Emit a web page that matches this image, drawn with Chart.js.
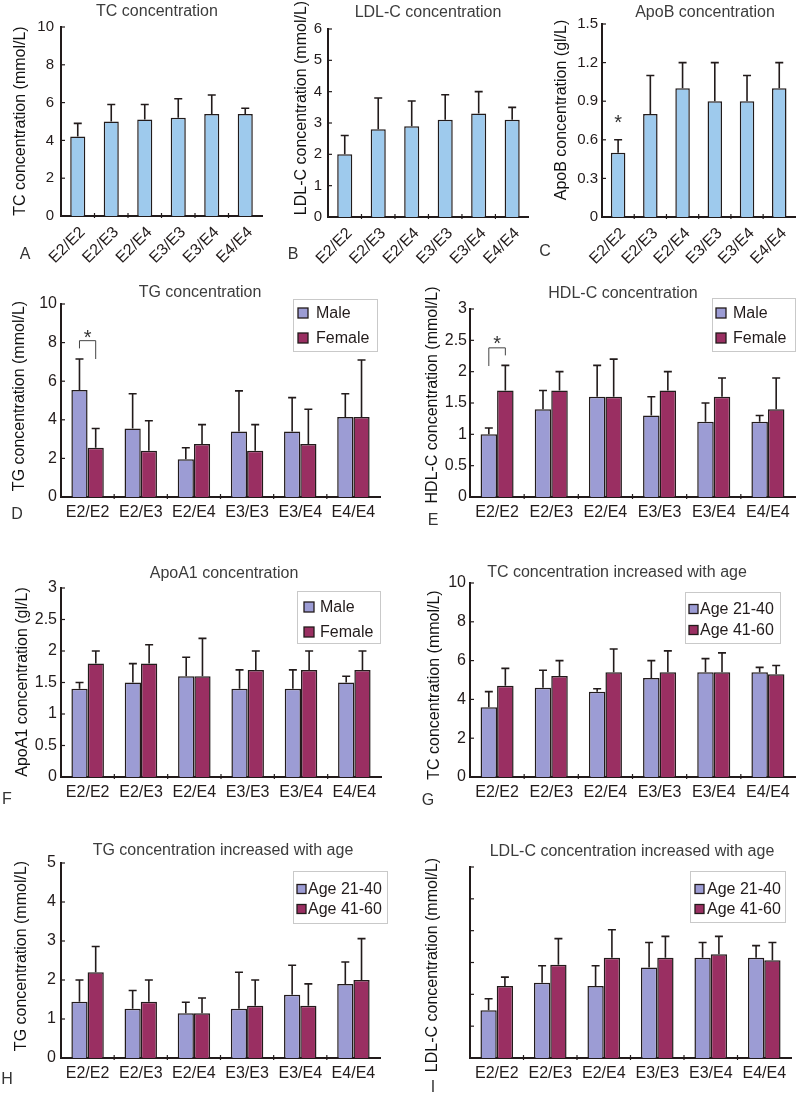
<!DOCTYPE html>
<html><head><meta charset="utf-8">
<script src="https://cdn.jsdelivr.net/npm/chart.js@4.4.1/dist/chart.umd.min.js"></script>
<style>
html,body{margin:0;padding:0;background:#fff;}
#fig{position:relative;width:800px;height:1096px;overflow:hidden;background:#fff;}
canvas{position:absolute;}
</style></head><body><div id="fig"></div>
<script>
// ---------- data ----------
const categories = ['E2/E2','E2/E3','E2/E4','E3/E3','E3/E4','E4/E4'];
const sexLabels = ['Male','Female'];
const ageLabels = ['Age 21-40','Age 41-60'];

// A: TC
const tcMean = [4.2, 5.0, 5.1, 5.2, 5.4, 5.4];
const tcSD   = [0.7, 0.9, 0.8, 1.0, 1.0, 0.3];
// B: LDL-C
const ldlMean = [2.0, 2.8, 2.9, 3.1, 3.3, 3.1];
const ldlSD   = [0.6, 1.0, 0.8, 0.8, 0.7, 0.4];
// C: ApoB
const apobMean = [0.5, 0.8, 1.0, 0.9, 0.9, 1.0];
const apobSD   = [0.1, 0.3, 0.2, 0.3, 0.2, 0.2];
// D: TG by sex
const tgMale     = [5.55, 3.55, 1.95, 3.4, 3.4, 4.15];
const tgMaleSD   = [1.6, 1.8, 0.6, 2.1, 1.75, 1.2];
const tgFemale   = [2.55, 2.4, 2.75, 2.4, 2.75, 4.15];
const tgFemaleSD = [1.0, 1.55, 1.0, 1.35, 1.8, 2.95];
// E: HDL-C by sex
const hdlMale     = [1.0, 1.4, 1.6, 1.3, 1.2, 1.2];
const hdlMaleSD   = [0.1, 0.3, 0.5, 0.3, 0.3, 0.1];
const hdlFemale   = [1.7, 1.7, 1.6, 1.7, 1.6, 1.4];
const hdlFemaleSD = [0.4, 0.3, 0.6, 0.3, 0.3, 0.5];
// F: ApoA1 by sex
const apoaMale     = [1.4, 1.5, 1.6, 1.4, 1.4, 1.5];
const apoaMaleSD   = [0.1, 0.3, 0.3, 0.3, 0.3, 0.1];
const apoaFemale   = [1.8, 1.8, 1.6, 1.7, 1.7, 1.7];
const apoaFemaleSD = [0.2, 0.3, 0.6, 0.3, 0.3, 0.3];
// G: TC by age
const tcYoung   = [3.6, 4.6, 4.4, 5.1, 5.4, 5.4];
const tcYoungSD = [0.8, 0.9, 0.15, 0.9, 0.7, 0.25];
const tcOld     = [4.7, 5.2, 5.4, 5.4, 5.4, 5.3];
const tcOldSD   = [0.9, 0.8, 1.2, 1.1, 1.0, 0.45];
// H: TG by age
const tgYoung   = [1.44, 1.26, 1.15, 1.26, 1.62, 1.9];
const tgYoungSD = [0.56, 0.47, 0.28, 0.94, 0.76, 0.56];
const tgOld     = [2.2, 1.44, 1.15, 1.34, 1.34, 2.0];
const tgOldSD   = [0.66, 0.56, 0.39, 0.66, 0.56, 1.06];
// I: LDL-C by age
const ldlYoung   = [1.5, 2.36, 2.26, 2.84, 3.15, 3.15];
const ldlYoungSD = [0.36, 0.54, 0.64, 0.79, 0.48, 0.38];
const ldlOld     = [2.26, 2.93, 3.15, 3.15, 3.26, 3.07];
const ldlOldSD   = [0.28, 0.82, 0.88, 0.67, 0.56, 0.56];

// ---------- style ----------
const INK = '#221b1b';
const BLUE = '#9ecaed';
const LAV = '#9c9cd4';
const MAROON = '#9a2f62';
const FONT = "'Liberation Sans', Arial, sans-serif";
Chart.defaults.font.family = FONT;
Chart.defaults.color = INK;

const panels = [
 {letter:'A', rect:[0,0,268,270], area:[61,27,262,216], title:'TC concentration', titleXY:[157,12],
  ylabel:'TC concentration (mmol/L)', ylabelXY:[21,121], letterXY:[25,255], yMax:10, yStep:2, tickPad:7, rotate:true, tickSize:15,
  series:[{label:'TC', data:tcMean, sd:tcSD, color:BLUE}]},
 {letter:'B', rect:[268,0,265,270], area:[328,29,530,217], title:'LDL-C concentration', titleXY:[428,13],
  ylabel:'LDL-C concentration (mmol/L)', ylabelXY:[302,108], letterXY:[293,255], yMax:6, yStep:1, tickPad:6, rotate:true, tickSize:15,
  series:[{label:'LDL-C', data:ldlMean, sd:ldlSD, color:BLUE}]},
 {letter:'C', rect:[533,0,267,270], area:[602,24,798,217], title:'ApoB concentration', titleXY:[705,13],
  ylabel:'ApoB concentration (gl/L)', ylabelXY:[562,110], letterXY:[545,252], yMax:1.5, yStep:0.3, tickPad:4, rotate:true, tickSize:15,
  series:[{label:'ApoB', data:apobMean, sd:apobSD, color:BLUE}],
  sig:{type:'star', value:0.77}},
 {letter:'D', rect:[0,276,400,254], area:[61,304,380,497], title:'TG concentration', titleXY:[200,293],
  ylabel:'TG concentration (mmol/L)', ylabelXY:[20,396], letterXY:[17,515], yMax:10, yStep:2, tickPad:4, tickSize:16,
  series:[{label:sexLabels[0], data:tgMale, sd:tgMaleSD, color:LAV},{label:sexLabels[1], data:tgFemale, sd:tgFemaleSD, color:MAROON}],
  legend:{box:[293,299,377,351], sx:298, tx:316, rows:[313,338], sw:10},
  sig:{type:'bracket', top:8.1, left:7.7, right:7.15, star:8.5}},
 {letter:'E', rect:[400,276,400,254], area:[470,309,795,497], title:'HDL-C concentration', titleXY:[623,294],
  ylabel:'HDL-C concentration (mmol/L)', ylabelXY:[433,395], letterXY:[433,521], yMax:3, yStep:0.5, tickPad:3, tickSize:16,
  series:[{label:sexLabels[0], data:hdlMale, sd:hdlMaleSD, color:LAV},{label:sexLabels[1], data:hdlFemale, sd:hdlFemaleSD, color:MAROON}],
  legend:{box:[712,298,795,351], sx:716, tx:733, rows:[313,338], sw:10},
  sig:{type:'bracket', top:2.38, left:2.09, right:2.26, star:2.52}},
 {letter:'F', rect:[0,555,400,260], area:[61,588,381,777], title:'ApoA1 concentration', titleXY:[224,574],
  ylabel:'ApoA1 concentration (gl/L)', ylabelXY:[23,682], letterXY:[7,800], yMax:3, yStep:0.5, tickPad:4, tickSize:16,
  series:[{label:sexLabels[0], data:apoaMale, sd:apoaMaleSD, color:LAV},{label:sexLabels[1], data:apoaFemale, sd:apoaFemaleSD, color:MAROON}],
  legend:{box:[297,591,380,643], sx:304, tx:320, rows:[607,632], sw:10}},
 {letter:'G', rect:[400,555,400,260], area:[470,583,795,777], title:'TC concentration increased with age', titleXY:[617,573],
  ylabel:'TC concentration (mmol/L)', ylabelXY:[435,685], letterXY:[428,801], yMax:10, yStep:2, tickPad:4, tickSize:16,
  series:[{label:ageLabels[0], data:tcYoung, sd:tcYoungSD, color:LAV},{label:ageLabels[1], data:tcOld, sd:tcOldSD, color:MAROON}],
  legend:{box:[685,592,780,643], sx:689, tx:700, rows:[609,630], sw:9}},
 {letter:'H', rect:[0,835,400,261], area:[61,863,380,1058], title:'TG concentration increased with age', titleXY:[223,851],
  ylabel:'TG concentration (mmol/L)', ylabelXY:[22,956], letterXY:[7,1080], yMax:5, yStep:1, tickPad:5, tickSize:16,
  series:[{label:ageLabels[0], data:tgYoung, sd:tgYoungSD, color:LAV},{label:ageLabels[1], data:tgOld, sd:tgOldSD, color:MAROON}],
  legend:{box:[293,871,387,923], sx:297, tx:308, rows:[889,909], sw:9}},
 {letter:'I', rect:[400,835,400,261], area:[470,867,791,1058], title:'LDL-C concentration increased with age', titleXY:[632,852],
  ylabel:'LDL-C concentration (mmol/L)', ylabelXY:[433,965], letterXY:[433,1088], yMax:6, yStep:1, tickPad:5, hideY:true, tickSize:16,
  series:[{label:ageLabels[0], data:ldlYoung, sd:ldlYoungSD, color:LAV},{label:ageLabels[1], data:ldlOld, sd:ldlOldSD, color:MAROON}],
  legend:{box:[690,871,785,922], sx:695, tx:707, rows:[889,909], sw:9}}
];

// ---------- plugin: error bars, ticks, titles, legends, significance ----------
const decor = {
  id:'decor',
  afterDatasetsDraw(chart){
    const ctx = chart.ctx, y = chart.scales.y;
    ctx.save();
    ctx.strokeStyle = INK; ctx.lineWidth = 1.6;
    chart.data.datasets.forEach((ds,d)=>{
      chart.getDatasetMeta(d).data.forEach((bar,i)=>{
        const top = y.getPixelForValue(ds.data[i] + ds.sd[i]);
        ctx.beginPath();
        ctx.moveTo(bar.x, bar.y); ctx.lineTo(bar.x, top);
        ctx.moveTo(bar.x-4, top); ctx.lineTo(bar.x+4, top);
        ctx.stroke();
      });
    });
    ctx.restore();
  },
  afterDraw(chart, args, p){
    const ctx = chart.ctx, x = chart.scales.x, y = chart.scales.y, a = chart.chartArea;
    const ox = p.rect[0], oy = p.rect[1];
    ctx.save();
    // inward y ticks
    ctx.strokeStyle = INK; ctx.lineWidth = 1.2;
    y.ticks.forEach(t=>{
      const py = y.getPixelForValue(t.value);
      ctx.beginPath(); ctx.moveTo(a.left, py); ctx.lineTo(a.left+4, py); ctx.stroke();
    });
    // x boundary ticks
    for (let i=1;i<categories.length;i++){
      const px = (x.getPixelForValue(i-1)+x.getPixelForValue(i))/2;
      ctx.beginPath(); ctx.moveTo(px, a.bottom-3); ctx.lineTo(px, a.bottom+2); ctx.stroke();
    }
    // title
    ctx.fillStyle = '#3c3c3c';
    ctx.font = '16px ' + FONT;
    ctx.textAlign = 'center'; ctx.textBaseline = 'middle';
    ctx.fillText(p.title, p.titleXY[0]-ox, p.titleXY[1]-oy);
    // y label
    ctx.save();
    ctx.translate(p.ylabelXY[0]-ox, p.ylabelXY[1]-oy);
    ctx.rotate(-Math.PI/2);
    ctx.fillStyle = '#111';
    ctx.font = '16px ' + FONT;
    ctx.fillText(p.ylabel, 0, 0);
    ctx.restore();
    // panel letter
    ctx.fillStyle = '#333';
    ctx.font = '16px ' + FONT;
    ctx.fillText(p.letter, p.letterXY[0]-ox, p.letterXY[1]-oy);
    // legend
    if (p.legend){
      const L = p.legend, b = L.box;
      ctx.fillStyle = '#fff';
      ctx.fillRect(b[0]-ox, b[1]-oy, b[2]-b[0], b[3]-b[1]);
      ctx.strokeStyle = '#c9c9c9'; ctx.lineWidth = 1;
      ctx.strokeRect(b[0]-ox+0.5, b[1]-oy+0.5, b[2]-b[0], b[3]-b[1]);
      chart.data.datasets.forEach((ds,d)=>{
        const cy = L.rows[d]-oy;
        ctx.fillStyle = ds.backgroundColor;
        ctx.fillRect(L.sx-ox, cy-L.sw/2, L.sw, L.sw);
        ctx.strokeStyle = INK; ctx.lineWidth = 1.3;
        ctx.strokeRect(L.sx-ox, cy-L.sw/2, L.sw, L.sw);
        ctx.fillStyle = INK; ctx.textAlign = 'left'; ctx.textBaseline = 'middle';
        ctx.font = '16px ' + FONT;
        ctx.fillText(ds.label, L.tx-ox, cy+1);
      });
    }
    // significance
    if (p.sig){
      const s = p.sig;
      ctx.fillStyle = '#333'; ctx.strokeStyle = '#444'; ctx.lineWidth = 1;
      ctx.font = '20px ' + FONT; ctx.textAlign = 'center'; ctx.textBaseline = 'alphabetic';
      if (s.type === 'star'){
        const bx = chart.getDatasetMeta(0).data[0].x;
        ctx.fillText('*', bx, y.getPixelForValue(s.value) + 11);
      } else {
        const x1 = chart.getDatasetMeta(0).data[0].x, x2 = chart.getDatasetMeta(1).data[0].x;
        const yt = y.getPixelForValue(s.top);
        ctx.beginPath();
        ctx.moveTo(x1, y.getPixelForValue(s.left)); ctx.lineTo(x1, yt);
        ctx.lineTo(x2, yt); ctx.lineTo(x2, y.getPixelForValue(s.right));
        ctx.stroke();
        ctx.fillText('*', (x1+x2)/2, y.getPixelForValue(s.star) + 11);
      }
    }
    ctx.restore();
  }
};
Chart.register(decor);

const fig = document.getElementById('fig');
panels.forEach(p=>{
  const [rx,ry,rw,rh] = p.rect, [l,t,r,b] = p.area;
  const cv = document.createElement('canvas');
  cv.width = rw; cv.height = rh;
  cv.style.left = rx+'px'; cv.style.top = ry+'px';
  cv.style.width = rw+'px'; cv.style.height = rh+'px';
  fig.appendChild(cv);
  const grouped = p.series.length > 1;
  const yTicks = {stepSize:p.yStep, padding:p.tickPad, color:INK, font:{size:p.tickSize},
                  callback: p.hideY ? (() => '') : (v => String(Math.round(v*100)/100))};
  new Chart(cv, {
    type:'bar',
    data:{
      labels:categories,
      datasets:p.series.map(s=>({
        label:s.label, data:s.data, sd:s.sd,
        backgroundColor:s.color, borderColor:INK, borderWidth:1.5, borderSkipped:'bottom',
        categoryPercentage: grouped ? 0.61 : 1, barPercentage: grouped ? 1 : 0.45
      }))
    },
    options:{
      responsive:false, devicePixelRatio:1, animation:false,
      layout:{padding:{left:0, top:t-ry, right:rx+rw-r, bottom:0}},
      plugins:{legend:{display:false}, tooltip:{enabled:false}, title:{display:false}, decor:p},
      scales:{
        x:{
          offset:true,
          grid:{display:false, drawTicks:false},
          border:{display:true, color:INK, width:2},
          ticks:{autoSkip:false, maxRotation:p.rotate?45:0, minRotation:p.rotate?45:0,
                 padding:p.rotate?7:6, labelOffset:p.rotate?5:0, color:INK, font:{size:16}},
          afterFit:s=>{ s.height = ry+rh-b; }
        },
        y:{
          min:0, max:p.yMax,
          grid:{display:false, drawTicks:false},
          border:{display:true, color:INK, width:2},
          ticks:yTicks,
          afterFit:s=>{ s.width = l-rx; }
        }
      }
    }
  });
});
</script>
</body></html>
